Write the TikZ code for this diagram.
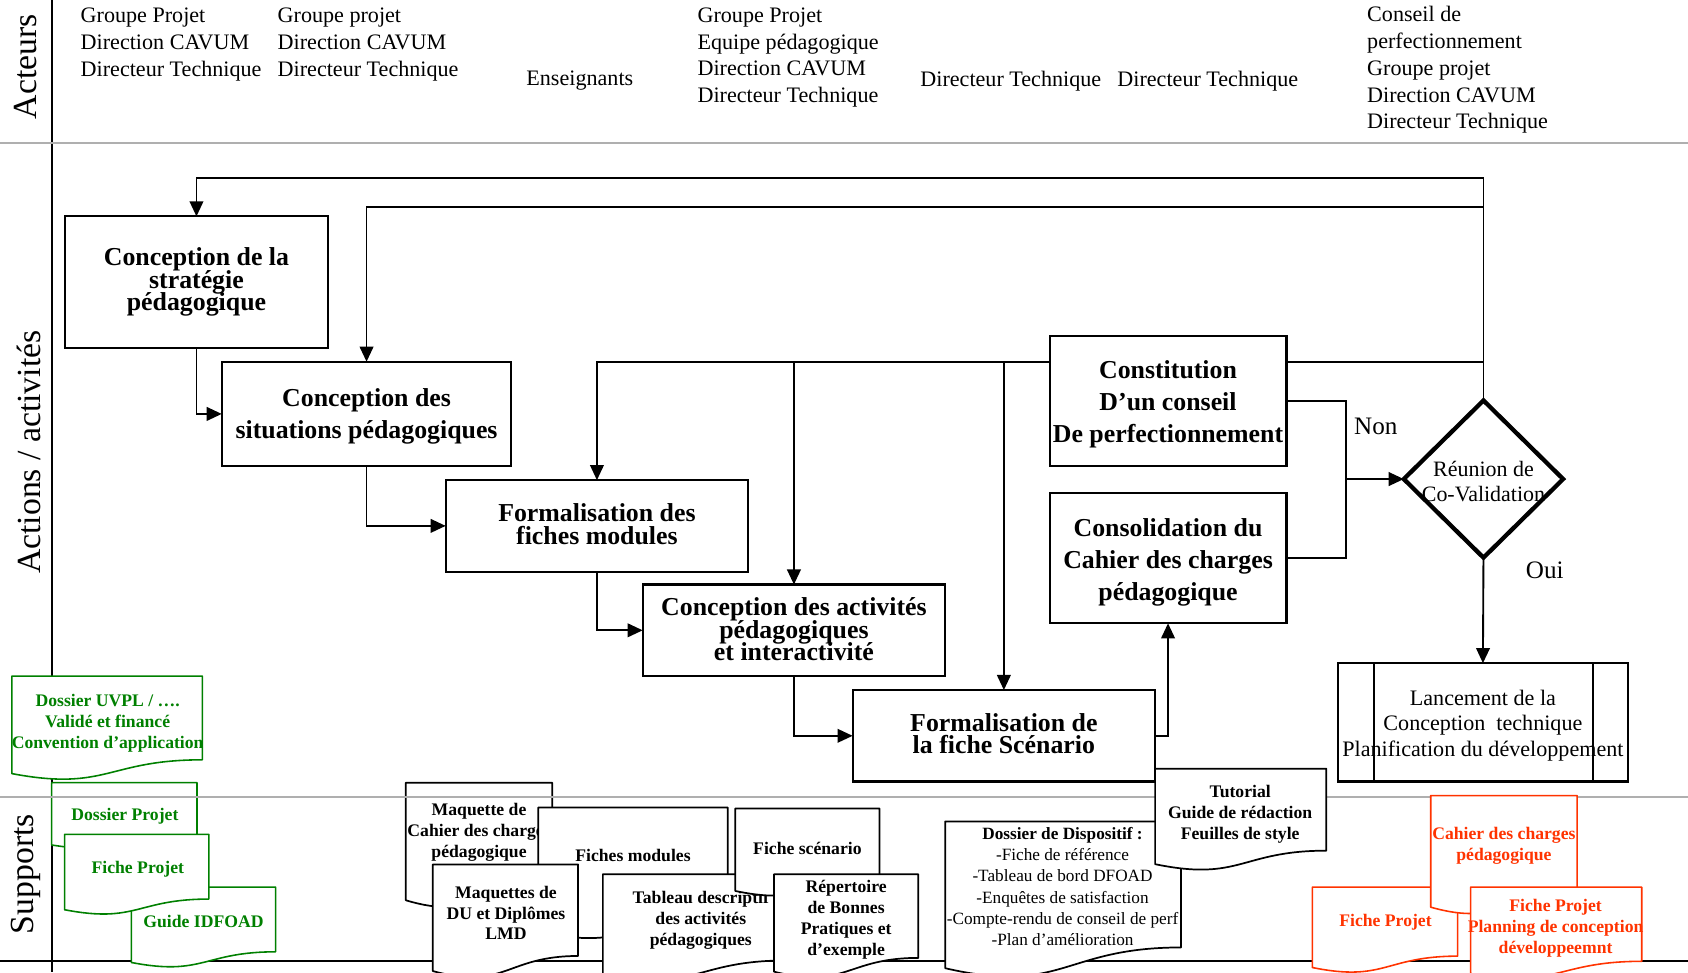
\documentclass[tikz,border=0pt]{standalone}
\usepackage{fontspec}
\setmainfont{Liberation Serif}
\usetikzlibrary{arrows.meta,shapes.geometric,calc}
\definecolor{gcol}{RGB}{0,128,0}
\definecolor{rcol}{RGB}{255,51,0}
\definecolor{lanegrey}{RGB}{175,175,175}
\pgfdeclarelayer{bg}
\pgfsetlayers{bg,main}
\newcommand\docshp[5]{%
  \draw[#1] (#2,#3) -- ({#2+#4},#3) -- ({#2+#4},{#3+0.802*#5})
    .. controls ({#2+0.5*#4},{#3+0.802*#5}) and ({#2+0.5*#4},{#3+1.107*#5}) .. (#2,{#3+0.934*#5}) -- cycle;}
\begin{document}
\lineskiplimit=-50pt
\begin{tikzpicture}[x=0.75pt,y=-0.75pt,
  every node/.style={inner sep=0pt,outer sep=0pt},
  actor/.style={anchor=west,align=left,font=\fontsize{15.4}{18.7}\selectfont},
  lane/.style={rotate=90,font=\fontsize{23.5}{28}\selectfont},
  actbox/.style={draw,line width=1.5pt,fill=white,align=center,font=\bfseries\fontsize{18}{15.75}\selectfont},
  actboxw/.style={actbox,font=\bfseries\fontsize{18}{22.3}\selectfont},
  decision/.style={diamond,draw,line width=3pt,fill=white},
  plain/.style={align=center,font=\fontsize{15.3}{17.6}\selectfont},
  procbox/.style={draw,line width=1.5pt,fill=white,align=center,font=\fontsize{15.4}{18}\selectfont},
  lbl/.style={font=\fontsize{17.5}{20}\selectfont},
  conn/.style={line width=1.3pt,-{Triangle[length=10.5pt,width=9.5pt]}},
  wire/.style={line width=1.3pt},
  gdoc/.style={draw=gcol,fill=white,line width=1.1pt,line join=round},
  bdoc/.style={draw=black,fill=white,line width=1.2pt,line join=round},
  rdoc/.style={draw=rcol,fill=white,line width=1.1pt,line join=round},
  btext/.style={align=center,font=\bfseries\fontsize{12.3}{14.6}\selectfont},
  gtext/.style={btext,text=gcol},
  rtext/.style={btext,text=rcol},
  ntext/.style={align=center,font=\fontsize{12}{14.85}\selectfont}
]
\useasboundingbox (0,0) rectangle (1568,903);
\clip (0,0) rectangle (1568,903);

% ---------- lanes ----------
\begin{pgfonlayer}{bg}
\draw[line width=1.3pt] (48,0) -- (48,903);
\draw[line width=1.3pt] (0,893) -- (1568,893);
\draw[lanegrey,line width=1.3pt] (0,133) -- (1568,133);
\end{pgfonlayer}
\node[lane] (lActeurs) at (24,62) {Acteurs};
\node[lane] (lActions) at (27,420) {Actions / activités};
\node[lane] (lSupports) at (24,812) {Supports};

% ---------- actors ----------
\node[actor] (a1) at (75,41.5) {Groupe Projet\\Direction CAVUM\\Directeur Technique};
\node[actor] (a2) at (258,41.5) {Groupe projet\\Direction CAVUM\\Directeur Technique};
\node[actor] (a3) at (489,75) {Enseignants};
\node[actor] (a4) at (648,53.5) {Groupe Projet\\Equipe pédagogique\\Direction CAVUM\\Directeur Technique};
\node[actor] (a5) at (855,75) {Directeur Technique};
\node[actor] (a6) at (1038,75) {Directeur Technique};
\node[actor] (a7) at (1270,65) {Conseil de\\perfectionnement\\Groupe projet\\Direction CAVUM\\Directeur Technique};

% ---------- activities ----------
\node[actbox,minimum width=183.75pt,minimum height=91.5pt] (B1) at (182.5,262) {};
\node[actbox,draw=none,fill=none] (B1t) at (182.5,262) {Conception de la\\stratégie\\pédagogique};
\node[actboxw,minimum width=201.75pt,minimum height=72.75pt] (B2) at (340.5,384.5) {};
\node[actboxw,draw=none,fill=none] (B2t) at (340.5,387) {Conception des\\situations pédagogiques};
\node[actbox,minimum width=210.75pt,minimum height=63.75pt] (B3) at (554.5,488.5) {};
\node[actbox,draw=none,fill=none] (B3t) at (554.5,487) {Formalisation des\\fiches modules};
\node[actbox,minimum width=210.75pt,minimum height=63.75pt] (B4) at (737.5,585.5) {};
\node[actbox,draw=none,fill=none] (B4t) at (737.5,584.5) {Conception des activités\\pédagogiques\\et interactivité};
\node[actbox,minimum width=210.75pt,minimum height=63.75pt] (B5) at (932.5,683.5) {};
\node[actbox,draw=none,fill=none] (B5t) at (932.5,681.5) {Formalisation de\\la fiche Scénario};
\node[actboxw,minimum width=165pt,minimum height=90.75pt] (B6) at (1085,372.5) {};
\node[actboxw,draw=none,fill=none] (B6t) at (1085,375.5) {Constitution\\D’un conseil\\De perfectionnement};
\node[actboxw,minimum width=165pt,minimum height=90.75pt] (B7) at (1085,518.5) {};
\node[actboxw,draw=none,fill=none] (B7t) at (1085,522) {Consolidation du\\Cahier des charges\\pédagogique};
\node[decision,minimum width=111pt,minimum height=109.5pt] (D) at (1378,445) {};
\node[plain] (Dt) at (1378,447.5) {Réunion de\\Co-Validation};
\node[procbox,minimum width=201.75pt,minimum height=82.5pt] (L) at (1377.5,671) {};
\node[plain,font=\fontsize{15.4}{18}\selectfont] (Lt) at (1377.5,674) {Lancement de la\\Conception\ \ technique\\Planification du développement};
\draw[line width=1.5pt] ($(L.north west)+(33,0)$) -- ($(L.south west)+(33,0)$);
\draw[line width=1.5pt] ($(L.north east)+(-32,0)$) -- ($(L.south east)+(-32,0)$);

% ---------- connectors ----------
\coordinate (t1) at (1378,165);
\coordinate (t2) at (1378,192);
\coordinate (t3) at (1378,336);
\coordinate (j) at (1250,445);
\begin{pgfonlayer}{bg}
\draw[conn] (D.north) -- (t1) -| (B1.north);
\draw[conn] (t2) -| (B2.north);
\draw[conn] (t3) -| (B3.north);
\draw[conn] (B4.north |- t3) -- (B4.north);
\draw[conn] (B5.north |- t3) -- (B5.north);
\draw[conn] (B1.south) |- (B2.west);
\draw[conn] (B2.south) |- (B3.west);
\draw[conn] (B3.south) |- (B4.west);
\draw[conn] (B4.south) |- (B5.west);
\draw[conn] (B5.east) -| (B7.south);
\draw[wire] (B6.east) -| (j) |- (B7.east);
\draw[conn] (j) -- (D.west);
\draw[conn] (D.south) -- (L.north);
\end{pgfonlayer}
\node[lbl] (non) at (1278,396) {Non};
\node[lbl] (oui) at (1435,530) {Oui};

% ---------- supports ----------
\docshp{gdoc}{48}{727}{135}{62}
\node[gtext] (s1) at (116,758.5) {Dossier Projet};
\docshp{gdoc}{11}{628}{177}{97}
\node[gtext] (s2) at (100,672) {Dossier UVPL / ….\\Validé et financé\\Convention d’application};
\docshp{gdoc}{122}{824}{134}{75}
\node[gtext] (s3) at (189,856) {Guide IDFOAD};
\docshp{gdoc}{60}{775}{134}{75}
\node[gtext] (s4) at (128,807.5) {Fiche Projet};
\docshp{bdoc}{377}{727}{136}{117}
\node[btext] (s5) at (445,773.5) {Maquette de\\Cahier des charges\\pédagogique};
\draw[lanegrey,line width=1.3pt] (0,740) -- (1568,740);
\docshp{bdoc}{500}{750}{176}{123}
\node[btext] (s6) at (588,794.5) {Fiches modules};
\docshp{bdoc}{402}{803}{135}{106}
\node[btext] (s7) at (470,848) {Maquettes de\\DU et Diplômes\\LMD};
\docshp{bdoc}{560}{812}{170}{100}
\node[btext] (s8) at (651,855) {Tableau descriptif\\des activités\\pédagogiques};
\docshp{bdoc}{683}{751}{134}{82}
\node[btext] (s9) at (750,788) {Fiche scénario};
\docshp{bdoc}{719}{812}{134}{97}
\node[btext] (s10) at (786,854) {Répertoire\\de Bonnes\\Pratiques et\\d’exemple};
\docshp{bdoc}{878}{763}{219}{146}
\node[ntext] (s11) at (987,823.5) {\textbf{Dossier de Dispositif :}\\-Fiche de référence\\-Tableau de bord DFOAD\\-Enquêtes de satisfaction\\-Compte-rendu de conseil de perf\\-Plan d’amélioration};
\docshp{bdoc}{1073}{714}{159}{95}
\node[btext] (s12) at (1152,756.5) {Tutorial\\Guide de rédaction\\Feuilles de style};
\docshp{rdoc}{1219}{824}{135}{80}
\node[rtext] (s13) at (1287,856.5) {Fiche Projet};
\docshp{rdoc}{1329}{739}{136}{111}
\node[rtext] (s14) at (1397,785.5) {Cahier des charges\\pédagogique};
\docshp{rdoc}{1366}{824}{159}{86}
\node[rtext] (s15) at (1445,862) {Fiche Projet\\Planning de conception\\développeemnt};
\end{tikzpicture}
\end{document}
